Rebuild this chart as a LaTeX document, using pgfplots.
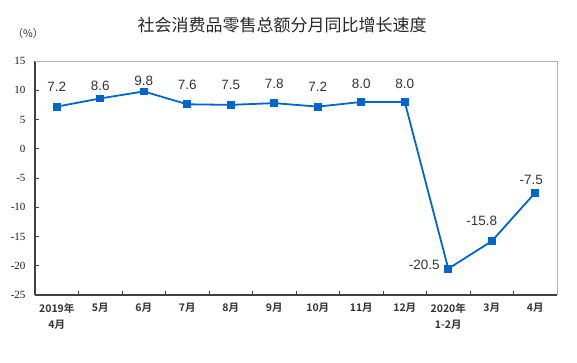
\documentclass[border=0pt]{standalone}
\usepackage{fontspec}
\setmainfont{Liberation Sans}
\newfontfamily\cjk{Noto Sans CJK SC}
\newfontfamily\cjkb{Noto Sans CJK SC Bold}
\newfontfamily\serif{Liberation Serif}
\usepackage{pgfplots}
\pgfplotsset{compat=1.18}
\usepackage{pgfplotstable}
\definecolor{lineblue}{RGB}{0,102,204}

\pgfplotstableread{
x y dx dy
0 7.2 0 20
1 8.6 0 13
2 9.8 0 11
3 7.6 0 19
4 7.5 0 20
5 7.8 0 19.5
6 7.2 0 20
7 8.0 0 18
8 8.0 0 18
9 -20.5 -24 4
10 -15.8 -10 20
11 -7.5 -4 13
}\datatable

\begin{document}
\begin{tikzpicture}
\path[use as bounding box] (0pt,0pt) rectangle (577pt,362pt);
\node[font=\cjk\fontsize{17}{17}\selectfont, text=black!85] at (282pt,337pt) {社会消费品零售总额分月同比增长速度};
\node[font=\cjk\fontsize{10.5}{10.5}\selectfont, text=black!80] at (28pt,328pt) {（\%）};
\begin{axis}[
  at={(35pt,67pt)}, anchor=south west,
  scale only axis, width=522pt, height=234pt,
  xmin=-0.5, xmax=11.5, ymin=-25, ymax=15,
  axis x line*=bottom, axis y line*=left,
  axis line style={black!75, line width=1.2pt, -},
  tick align=inside,
  xtick={0,...,11},
  xticklabels={{2019年\\4月},5月,6月,7月,8月,9月,10月,11月,12月,{2020年\\1-2月},3月,4月},
  xticklabel style={align=center, font=\cjkb\fontsize{10.5}{16}\selectfont, text=black!80, yshift=-5pt},
  major x tick style={draw=none},
  minor xtick={-0.5,0.5,...,11.5},
  minor tick length=4pt,
  minor x tick style={black!75, line width=1pt},
  ytick={-25,-20,...,15},
  ytick pos=left,
  major tick length=4pt,
  major y tick style={black!75, line width=1pt},
  yticklabel style={font=\serif\fontsize{11}{11}\selectfont, text=black!90, xshift=-6pt},
  /pgf/number format/assume math mode=true,
  clip=false,
]
\addplot[lineblue, line width=1.8pt, mark=square*, mark size=3pt, mark options={solid},
  point meta=explicit,
  nodes near coords={\pgfmathprintnumber[fixed,fixed zerofill,precision=1,assume math mode=true]{\pgfplotspointmeta}},
  visualization depends on={\thisrow{dx}\as\dx},
  visualization depends on={\thisrow{dy}\as\dy},
  every node near coord/.append style={anchor=center, xshift=\dx pt, yshift=\dy pt, font=\fontsize{13.5}{13.5}\selectfont, text=black!80}
] table[x=x,y=y,meta=y]{\datatable};
\draw[black!30, line width=1pt] (rel axis cs:0,1) -- (rel axis cs:1,1) -- (rel axis cs:1,0);
\end{axis}
\end{tikzpicture}
\end{document}
